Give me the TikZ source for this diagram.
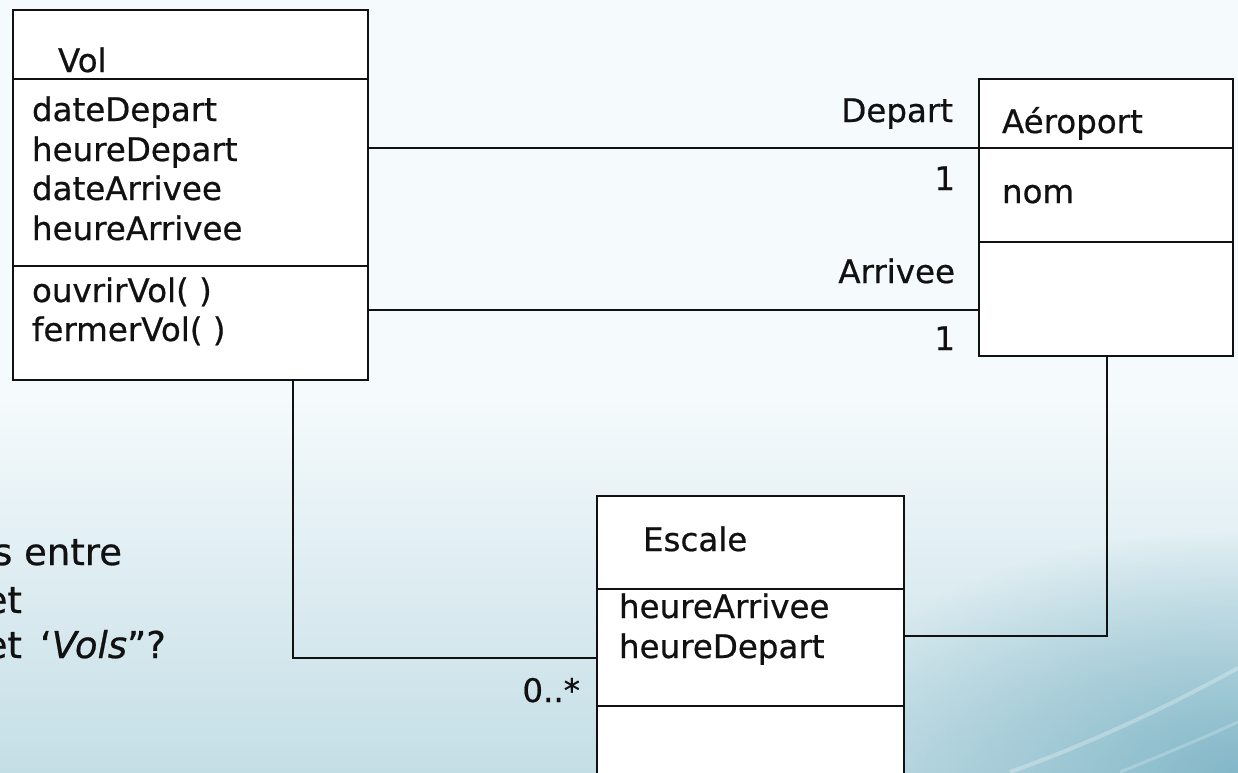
\documentclass[tikz,border=0pt]{standalone}
\usepackage{fontspec}
\setmainfont[FakeBold=0.6]{DejaVu Sans}
\usetikzlibrary{fadings}

\definecolor{bgtop}{HTML}{F5FAFC}
\definecolor{bgmid}{HTML}{E6F2F6}
\definecolor{bgbot}{HTML}{C4DEE6}
\definecolor{bgdeep}{HTML}{7DB4C5}
\definecolor{ink}{HTML}{111111}

\tikzfading[name=softglow, inner color=transparent!10, outer color=transparent!100]

\tikzset{
  umlbox/.style={draw=ink, fill=white, line width=2.8pt, inner sep=0pt, outer sep=0pt, anchor=north west},
  divider/.style={draw=ink, line width=2.6pt},
  link/.style={draw=ink, line width=2.4pt},
  txt/.style={text=ink, inner sep=0pt, outer sep=0pt, anchor=base west, font=\fontsize{32.5}{38}\selectfont},
  rtxt/.style={txt, anchor=base east},
  slide/.style={text=ink, inner sep=0pt, outer sep=0pt, font=\fontsize{37}{44}\selectfont},
}

\begin{document}
\begin{tikzpicture}[x=1pt, y=-1pt]
\useasboundingbox (0,0) rectangle (1238,772);
\begin{scope}
\clip (0,0) rectangle (1238,772);

% slide background
\fill[bgtop] (0,0) rectangle (1238,772);
\shade[top color=bgtop, middle color=bgmid, bottom color=bgbot] (0,400) rectangle (1238,773);
\fill[bgdeep, path fading=softglow] (1238,772) ellipse [x radius=440, y radius=240];
\draw[white, opacity=0.28, line width=4pt] (1010,772) .. controls (1100,740) and (1180,700) .. (1238,668);
\draw[white, opacity=0.22, line width=3pt] (1120,772) .. controls (1170,752) and (1210,735) .. (1238,722);

% question text of the slide, partly hidden on the left
\node[slide, anchor=base east] (q1) at (122,565) {s entre};
\node[slide, anchor=base east] (q2) at (22,613) {et};
\node[slide, anchor=base east] (q3) at (22,658) {et};
\node[slide, anchor=base west] (q4) at (40,658) {‘\textit{Vols}”?};

% class Vol
\node[umlbox, minimum width=355pt, minimum height=370pt] (vol) at (13,10) {};
\draw[divider] (vol.west |- 0,79) -- (vol.east |- 0,79);
\draw[divider] (vol.west |- 0,266) -- (vol.east |- 0,266);
\node[txt] (volname) at (58,72) {Vol};
\node[txt] (va1) at (32,121) {dateDepart};
\node[txt] (va2) at (32,161) {heureDepart};
\node[txt] (va3) at (32,200) {dateArrivee};
\node[txt] (va4) at (32,240) {heureArrivee};
\node[txt] (vm1) at (32,302) {ouvrirVol( )};
\node[txt] (vm2) at (32,341) {fermerVol( )};

% class Aéroport
\node[umlbox, minimum width=254pt, minimum height=277pt] (aero) at (979,79) {};
\draw[divider] (aero.west |- 0,148) -- (aero.east |- 0,148);
\draw[divider] (aero.west |- 0,242) -- (aero.east |- 0,242);
\node[txt] (aeroname) at (1002,133) {Aéroport};
\node[txt] (aa1) at (1002,203) {nom};

% class Escale
\node[umlbox, minimum width=307pt, minimum height=310pt] (escale) at (597,496) {};
\draw[divider] (escale.west |- 0,589) -- (escale.east |- 0,589);
\draw[divider] (escale.west |- 0,706) -- (escale.east |- 0,706);
\node[txt] (escname) at (643,551) {Escale};
\node[txt] (ea1) at (619,618) {heureArrivee};
\node[txt] (ea2) at (619,658) {heureDepart};

% associations
\draw[link] (vol.east |- 0,148) -- (aero.west |- 0,148);
\draw[link] (vol.east |- 0,310) -- (aero.west |- 0,310);
\draw[link] (vol.south -| 293,0) |- (escale.west |- 0,658);
\draw[link] (aero.south -| 1107,0) |- (escale.east |- 0,636);

% role names and multiplicities
\node[rtxt] (rdep) at (953,122) {Depart};
\node[rtxt] (mdep) at (955,190) {1};
\node[rtxt] (rarr) at (955,283) {Arrivee};
\node[rtxt] (marr) at (955,350) {1};
\node[rtxt] (mesc) at (580,702) {0..*};
\end{scope}
\end{tikzpicture}
\end{document}
